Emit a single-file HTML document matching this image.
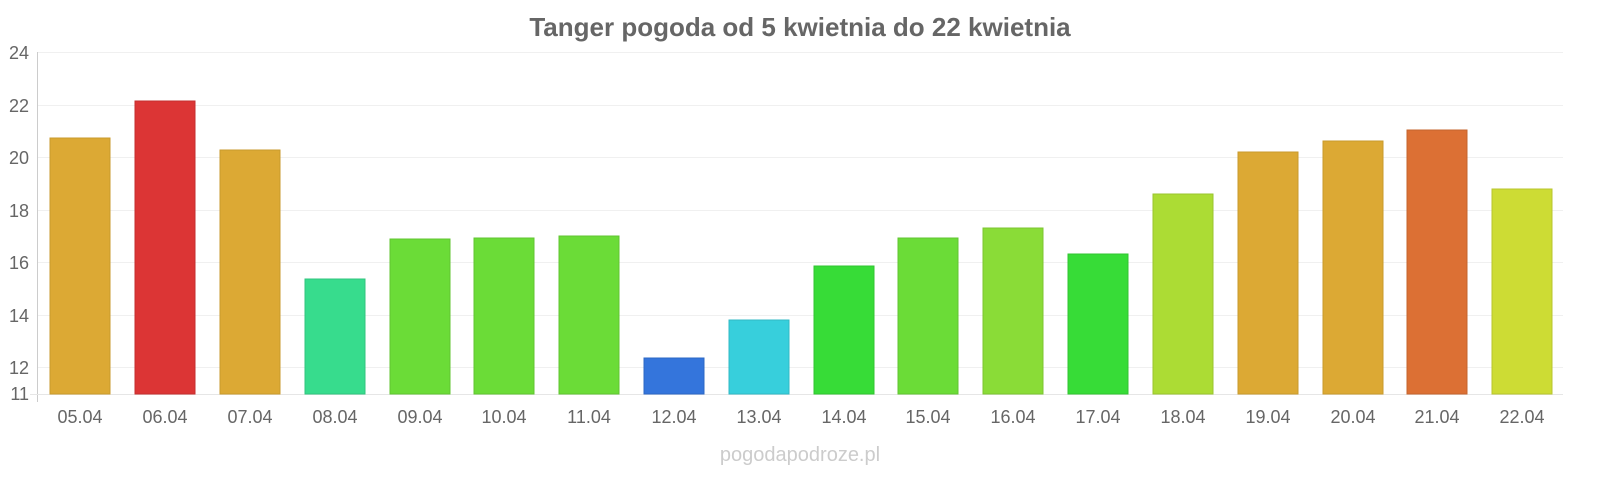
<!DOCTYPE html>
<html><head><meta charset="utf-8"><style>
body{margin:0;background:#fff;}
svg{display:block;font-family:"Liberation Sans",sans-serif;}
</style></head><body>
<svg width="1600" height="480" viewBox="0 0 1600 480">
<text x="800" y="36" text-anchor="middle" font-size="26" font-weight="bold" fill="#666">Tanger pogoda od 5 kwietnia do 22 kwietnia</text>
<g stroke="#f0f0f0" stroke-width="1">
<line x1="37" x2="1563" y1="52.5" y2="52.5"/>
<line x1="37" x2="1563" y1="105.5" y2="105.5"/>
<line x1="37" x2="1563" y1="157.5" y2="157.5"/>
<line x1="37" x2="1563" y1="210.5" y2="210.5"/>
<line x1="37" x2="1563" y1="262.5" y2="262.5"/>
<line x1="37" x2="1563" y1="315.5" y2="315.5"/>
<line x1="37" x2="1563" y1="367.5" y2="367.5"/>
</g>
<line x1="37.5" x2="37.5" y1="52" y2="402" stroke="#ccc"/>
<line x1="30" x2="1563" y1="394.5" y2="394.5" stroke="#e6e6e6"/>
<g font-size="18" fill="#666" text-anchor="end">
<text x="29" y="59">24</text><text x="29" y="112">22</text><text x="29" y="164">20</text>
<text x="29" y="217">18</text><text x="29" y="269">16</text><text x="29" y="322">14</text>
<text x="29" y="374">12</text><text x="29" y="400">11</text>
</g>
<g stroke-width="1">
<rect x="50" y="138" width="60" height="256" fill="#dca934" stroke="#c99a2c"/>
<rect x="135" y="101" width="60" height="293" fill="#dc3535" stroke="#c52e2e"/>
<rect x="220" y="150" width="60" height="244" fill="#dca934" stroke="#c99a2c"/>
<rect x="305" y="279" width="60" height="115" fill="#37dc8d" stroke="#30c47e"/>
<rect x="390" y="239" width="60" height="155" fill="#6bdc37" stroke="#60c531"/>
<rect x="474" y="238" width="60" height="156" fill="#6bdc37" stroke="#60c531"/>
<rect x="559" y="236" width="60" height="158" fill="#6bdc37" stroke="#60c531"/>
<rect x="644" y="358" width="60" height="36" fill="#3475dc" stroke="#2d68c5"/>
<rect x="729" y="320" width="60" height="74" fill="#37cfdc" stroke="#31b9c5"/>
<rect x="814" y="266" width="60" height="128" fill="#37dc37" stroke="#31c531"/>
<rect x="898" y="238" width="60" height="156" fill="#6bdc37" stroke="#60c531"/>
<rect x="983" y="228" width="60" height="166" fill="#8adc37" stroke="#7cc531"/>
<rect x="1068" y="254" width="60" height="140" fill="#37dc37" stroke="#31c531"/>
<rect x="1153" y="194" width="60" height="200" fill="#acdc34" stroke="#9ac52e"/>
<rect x="1238" y="152" width="60" height="242" fill="#dca934" stroke="#c99a2c"/>
<rect x="1323" y="141" width="60" height="253" fill="#dca934" stroke="#c99a2c"/>
<rect x="1407" y="130" width="60" height="264" fill="#dc7034" stroke="#c5642e"/>
<rect x="1492" y="189" width="60" height="205" fill="#cddc34" stroke="#b8c52e"/>
</g>
<g font-size="18" fill="#666" text-anchor="middle">
<text x="80" y="423">05.04</text><text x="165" y="423">06.04</text><text x="250" y="423">07.04</text>
<text x="335" y="423">08.04</text><text x="420" y="423">09.04</text><text x="504" y="423">10.04</text>
<text x="589" y="423">11.04</text><text x="674" y="423">12.04</text><text x="759" y="423">13.04</text>
<text x="844" y="423">14.04</text><text x="928" y="423">15.04</text><text x="1013" y="423">16.04</text>
<text x="1098" y="423">17.04</text><text x="1183" y="423">18.04</text><text x="1268" y="423">19.04</text>
<text x="1353" y="423">20.04</text><text x="1437" y="423">21.04</text><text x="1522" y="423">22.04</text>
</g>
<text x="800" y="461" text-anchor="middle" font-size="20" fill="#ccc">pogodapodroze.pl</text>
</svg>
</body></html>
